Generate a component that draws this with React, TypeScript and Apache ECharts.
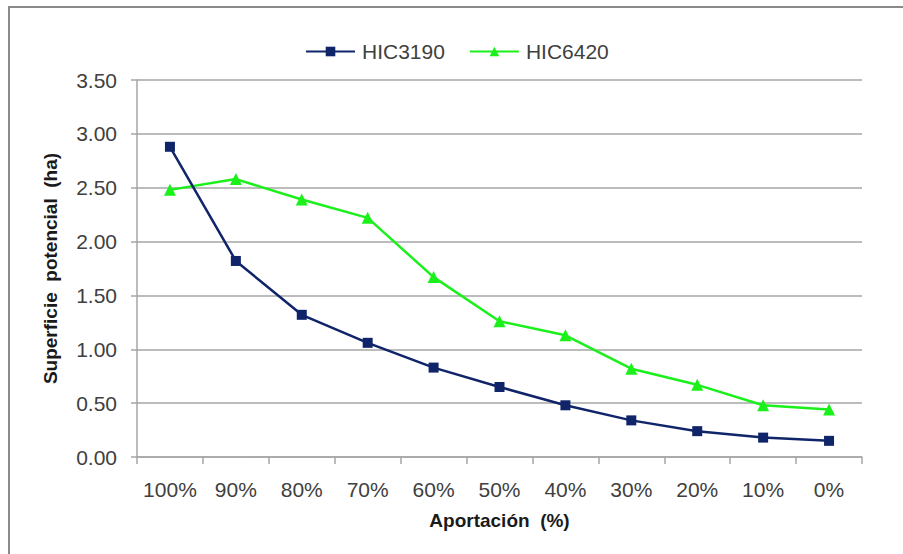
import React, { useEffect, useRef } from "react";
import * as echarts from "echarts";

const categories = ["100%", "90%", "80%", "70%", "60%", "50%", "40%", "30%", "20%", "10%", "0%"];
const hic3190 = [2.88, 1.82, 1.32, 1.06, 0.83, 0.65, 0.48, 0.34, 0.24, 0.18, 0.15];
const hic6420 = [2.48, 2.58, 2.39, 2.22, 1.67, 1.26, 1.13, 0.82, 0.67, 0.48, 0.44];
const seriesNames = ["HIC3190", "HIC6420"];
const xTitle = "Aportación  (%)";
const yTitle = "Superficie  potencial  (ha)";

const FONT = "'Liberation Sans', Arial, sans-serif";

export default function App() {
  const ref = useRef<HTMLDivElement>(null);
  useEffect(() => {
    if (!ref.current) return;
    const chart = echarts.init(ref.current, undefined, { renderer: "svg" });
    chart.setOption({
      animation: false,
      backgroundColor: "#ffffff",
      textStyle: { fontFamily: FONT },
      graphic: [
        {
          type: "rect",
          shape: { x: 9, y: 7, width: 1200, height: 1200 },
          style: { fill: "none", stroke: "#8a8a8a", lineWidth: 2 },
          silent: true,
          z: -1,
        },
      ],
      legend: {
        left: 300,
        top: 36,
        itemWidth: 49,
        itemHeight: 12,
        itemGap: 24,
        textStyle: { fontSize: 21, color: "#404040", fontFamily: FONT, padding: [0, 0, 0, 2] },
        data: seriesNames,
      },
      grid: { left: 137, right: 41, top: 80, bottom: 97 },
      xAxis: {
        type: "category",
        data: categories,
        boundaryGap: true,
        name: xTitle,
        nameLocation: "middle",
        nameGap: 54,
        nameTextStyle: { fontSize: 19, fontWeight: "bold", color: "#1a1a1a", fontFamily: FONT },
        axisLine: { lineStyle: { color: "#a6a6a6", width: 1.5 } },
        axisTick: { show: true, interval: 0, length: 7, lineStyle: { color: "#a6a6a6", width: 1.5 } },
        axisLabel: { interval: 0, fontSize: 21, color: "#404040", margin: 22, fontFamily: FONT },
      },
      yAxis: {
        type: "value",
        min: 0,
        max: 3.5,
        interval: 0.5,
        name: yTitle,
        nameLocation: "middle",
        nameGap: 77,
        nameTextStyle: { fontSize: 19, fontWeight: "bold", color: "#1a1a1a", fontFamily: FONT },
        axisLine: { show: true, lineStyle: { color: "#a6a6a6", width: 1.5 } },
        axisTick: { show: true, length: 6, lineStyle: { color: "#a6a6a6", width: 1.5 } },
        axisLabel: {
          fontSize: 21,
          color: "#404040",
          margin: 20,
          fontFamily: FONT,
          formatter: (v: number) => v.toFixed(2),
        },
        splitLine: { show: true, lineStyle: { color: "#a6a6a6", width: 1.5 } },
      },
      series: [
        {
          name: seriesNames[0],
          type: "line",
          data: hic3190,
          symbol: "rect",
          symbolSize: 10,
          lineStyle: { color: "#10246a", width: 2.5 },
          itemStyle: { color: "#10246a" },
          z: 3,
        },
        {
          name: seriesNames[1],
          type: "line",
          data: hic6420,
          symbol: "triangle",
          symbolSize: 12,
          lineStyle: { color: "#1bf01b", width: 2.5 },
          itemStyle: { color: "#1bf01b" },
          z: 2,
        },
      ],
    });
    return () => chart.dispose();
  }, []);
  return (
    <div
      ref={ref}
      style={{ position: "fixed", left: 0, top: 0, width: 903, height: 554 }}
    />
  );
}
